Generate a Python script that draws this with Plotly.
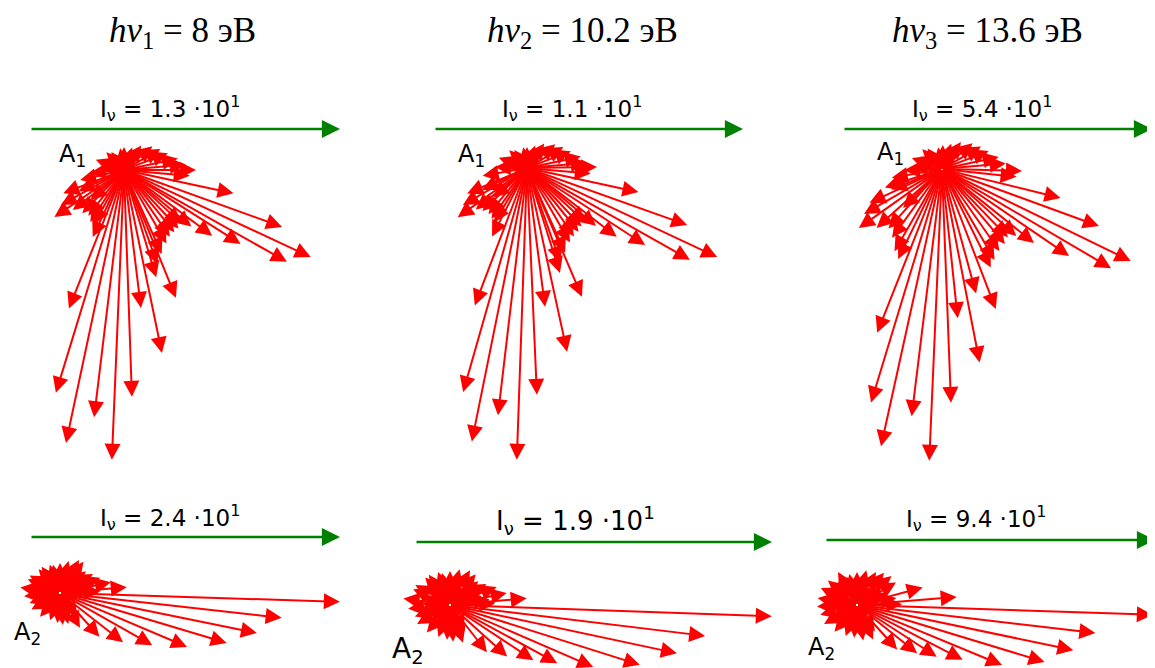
import numpy as np
import plotly.graph_objects as go

# page pixels: the html body has an 8px margin, so the figure covers 8..1155 x 8..668
PAGE_W, PAGE_H, BODY_MARGIN = 1155, 668, 8

# ---------------- data ----------------
TITLES = ["<i>hν</i><sub>1</sub> = 8 эВ",
          "<i>hν</i><sub>2</sub> = 10.2 эВ",
          "<i>hν</i><sub>3</sub> = 13.6 эВ"]
INTENSITY_MANTISSA = ["1.3", "1.1", "5.4", "2.4", "1.9", "9.4"]
INTENSITY_EXPONENT = [1, 1, 1, 1, 1, 1]
ATOM_LABELS = ["A<sub>1</sub>", "A<sub>1</sub>", "A<sub>1</sub>",
               "A<sub>2</sub>", "A<sub>2</sub>", "A<sub>2</sub>"]

# arrow directions (deg, screen clockwise from +x) and lengths (px)
P1_ANG = [-160, -150, -135, -125, -110, -100, -90, -80, -70, -55, -45, -40, -30, -21, -12, -5, 0, 5,
          12, 19.8, 25, 29.4, 32.4, 36.7, 40, 43, 47, 51, 55.5, 60, 65.8, 67.9, 70.5, 73.3, 78.3,
          83, 88, 92.4, 96.9, 102, 107, 111.7, 115, 119, 123, 128, 134, 138, 142, 146, 151, 155,
          159, 167, 175, 185]
P1_LEN = [30, 22, 25, 22, 15, 22, 23, 15, 24, 30, 18, 37, 42, 47, 55, 62, 72, 66,
          112, 168, 206, 187, 138, 110, 88, 78, 80, 80, 81, 85, 92, 138, 100, 112, 187,
          139, 227, 290, 249, 279, 233, 149, 74, 62, 62, 58, 60, 45, 65, 84, 72, 50,
          65, 45, 34, 22]

P2_ANG = [-160, -150, -135, -125, -110, -100, -90, -80, -70, -55, -45, -40, -30, -21, -12, -5, -0.8, 5,
          12.2, 19.6, 25.1, 29.4, 33.1, 37.5, 40, 43, 47, 51, 55.5, 60, 65.8, 66.9, 70.5, 72.6, 77.7,
          82.6, 87.5, 92, 96.7, 101.4, 105.9, 110.8, 117, 121, 125, 130, 136, 139, 141, 144.6, 150, 154,
          157, 170, 182, 190]
P2_LEN = [30, 22, 25, 22, 15, 21, 21, 15, 24, 30, 18, 37, 42, 47, 55, 60, 70, 64,
          114, 170, 210, 187, 141, 113, 90, 80, 80, 82, 83, 86, 93, 140, 100, 110, 188,
          140, 227, 292, 249, 279, 233, 147, 77, 64, 62, 60, 62, 45, 66, 85, 74, 50,
          65, 45, 32, 22]

P3_ANG = [-160, -150, -135, -125, -110, -100, -88, -80, -70, -55, -45, -40, -30, -21, -12, -5, 1.4, 6,
          13.7, 20, 26, 30.4, 34.4, 38.8, 42, 46, 50, 55, 60, 63.7, 69, 74.7, 79, 84, 87.8, 92.5,
          97, 102.4, 106.9, 111.6, 116, 120, 126, 132, 135, 138, 144.6, 150, 155, 158, 162, 170,
          178, 185]
P3_LEN = [32, 25, 28, 25, 16, 22, 24, 16, 27, 33, 20, 40, 45, 50, 58, 64, 80, 75,
          122, 167, 210, 196, 154, 118, 100, 95, 98, 100, 105, 110, 150, 129, 197, 150, 234, 292,
          249, 284, 244, 176, 100, 95, 85, 80, 55, 88, 102, 90, 80, 55, 60, 51,
          38, 30]

P4_ANG = [-120, -104, -95, -90, -82, -75, -67, -60, -53, -46, -40, -35, -30, -25, -20.6, -16, -12,
          -8, -5, -2, 1.8, 6.4, 11.5, 16.7, 23, 29.5, 38, 48, 54, 60, 67, 75, 80, 85, 90, 95, 102,
          110, 120, 130, 140, 150, 156, 162, 168, 175, 182, 188, 195, 203, 210, 218, 228, 235, 242, 250]
P4_LEN = [25, 29, 22, 30, 18, 33, 22, 38, 39, 25, 34, 22, 38, 25, 43, 30, 52,
          35, 67, 40, 280, 223, 201, 174, 138, 106, 80, 59, 30, 40, 25, 32, 20, 32, 22, 30, 20,
          29, 22, 31, 22, 33, 22, 32, 22, 36, 25, 40, 25, 35, 35, 25, 32, 32, 22, 30]

P5_ANG = [-120, -104, -95, -90, -82, -75, -67, -60, -50, -45, -40, -35, -30, -25, -21, -16, -12,
          -8, -5, -2, 2, 6.9, 12, 17.5, 23.4, 28.5, 33.5, 42, 52, 60, 71, 78, 85, 90, 95, 102,
          110, 120, 130, 140, 150, 156, 162, 168, 175, 182, 188, 195, 203, 210, 218, 228, 235, 242, 250]
P5_LEN = [28, 33, 25, 34, 20, 37, 25, 40, 40, 28, 37, 25, 42, 28, 50, 33, 58,
          40, 77, 45, 322, 257, 232, 199, 156, 122, 100, 77, 60, 30, 40, 25, 37, 25, 35, 23,
          34, 25, 36, 25, 38, 25, 37, 25, 42, 28, 47, 28, 40, 40, 28, 37, 37, 25, 35]

P6_ANG = [-120, -104, -95, -90, -82, -75, -67, -60, -50, -45, -40, -35, -30, -22, -15, -10, -4.6,
          -1, 1.9, 6.7, 11.8, 16.9, 22.5, 27.4, 33, 38.7, 48, 56, 65, 72, 80, 88, 95, 102, 110,
          120, 130, 140, 150, 157, 165, 172, 178, 184, 190, 197, 205, 212, 220, 230, 240, 250]
P6_LEN = [28, 32, 25, 33, 22, 36, 25, 38, 42, 28, 45, 30, 45, 32, 68, 40, 100,
          45, 296, 240, 221, 196, 157, 119, 95, 77, 60, 32, 38, 25, 36, 24, 33, 23, 33,
          25, 35, 25, 38, 25, 38, 25, 40, 28, 40, 28, 40, 28, 38, 30, 38, 30]

PANEL_ANG = [P1_ANG, P2_ANG, P3_ANG, P4_ANG, P5_ANG, P6_ANG]
PANEL_LEN = [P1_LEN, P2_LEN, P3_LEN, P4_LEN, P5_LEN, P6_LEN]

# ---------------- layout constants (positions / styles), page pixels ----------------
ORIGINS = [(124, 170), (527, 168), (942, 169), (60, 593), (450, 605), (857, 605)]
BEAM_SPANS = [(30, 340, 129), (434, 743, 129), (843, 1152, 129),
              (30, 340, 537), (415, 772, 542), (825, 1155, 540)]
LABEL_POS = [(170, 108), (572, 108), (982, 108), (170, 517), (575, 520), (976, 518)]
LABEL_SIZE = [23, 23, 23, 23, 26, 23]
ATOM_POS = [(72, 155), (471, 155), (890, 153), (27, 633), (408, 650), (821, 648)]
ATOM_SIZE = [24, 24, 24, 24, 28, 24]
TITLE_POS = [(182, 32), (582, 32), (987, 32)]
TITLE_SIZE = 35
RED, GREEN = "#ff0000", "#008000"

fig = go.Figure()
fig.add_trace(go.Scatter(x=[BODY_MARGIN, PAGE_W], y=[BODY_MARGIN, PAGE_H], mode="markers",
                         marker=dict(opacity=0), hoverinfo="skip", showlegend=False))

ann = []
for (ox, oy), angs, lens in zip(ORIGINS, PANEL_ANG, PANEL_LEN):
    a = np.deg2rad(np.array(angs, dtype=float))
    L = np.array(lens, dtype=float)
    tx = ox + L * np.cos(a)
    ty = oy + L * np.sin(a)
    for x1, y1 in zip(tx, ty):
        ann.append(dict(x=float(x1), y=float(y1), ax=ox, ay=oy, xref="x", yref="y",
                        axref="x", ayref="y", showarrow=True, arrowhead=2,
                        arrowsize=1.6, arrowwidth=2, arrowcolor=RED, standoff=0, text=""))

for (x0, x1, y), m, e, (lx, ly), fs in zip(BEAM_SPANS, INTENSITY_MANTISSA, INTENSITY_EXPONENT,
                                             LABEL_POS, LABEL_SIZE):
    ann.append(dict(x=x1, y=y, ax=x0, ay=y, xref="x", yref="y", axref="x", ayref="y",
                    showarrow=True, arrowhead=2, arrowsize=1.45, arrowwidth=2.5,
                    arrowcolor=GREEN, standoff=0, text=""))
    ann.append(dict(x=lx, y=ly, xref="x", yref="y", showarrow=False,
                    text=f"I<sub>ν</sub> = {m} ·10<sup>{e}</sup>",
                    font=dict(family="DejaVu Sans", size=fs, color="black"),
                    xanchor="center", yanchor="middle"))

for (ax_, ay_), t, fs in zip(ATOM_POS, ATOM_LABELS, ATOM_SIZE):
    ann.append(dict(x=ax_, y=ay_, xref="x", yref="y", showarrow=False, text=t,
                    font=dict(family="DejaVu Sans", size=fs, color="black"),
                    xanchor="center", yanchor="middle"))

for (tx_, ty_), t in zip(TITLE_POS, TITLES):
    ann.append(dict(x=tx_, y=ty_, xref="x", yref="y", showarrow=False, text=t,
                    font=dict(family="Liberation Serif", size=TITLE_SIZE, color="black"),
                    xanchor="center", yanchor="middle"))

fig.update_layout(
    width=PAGE_W - BODY_MARGIN, height=PAGE_H - BODY_MARGIN,
    margin=dict(l=0, r=0, t=0, b=0),
    paper_bgcolor="white", plot_bgcolor="white", showlegend=False,
    xaxis=dict(range=[BODY_MARGIN, PAGE_W], visible=False, fixedrange=True),
    yaxis=dict(range=[PAGE_H, BODY_MARGIN], visible=False, fixedrange=True),
    annotations=ann,
)
fig.write_html("out.html")
